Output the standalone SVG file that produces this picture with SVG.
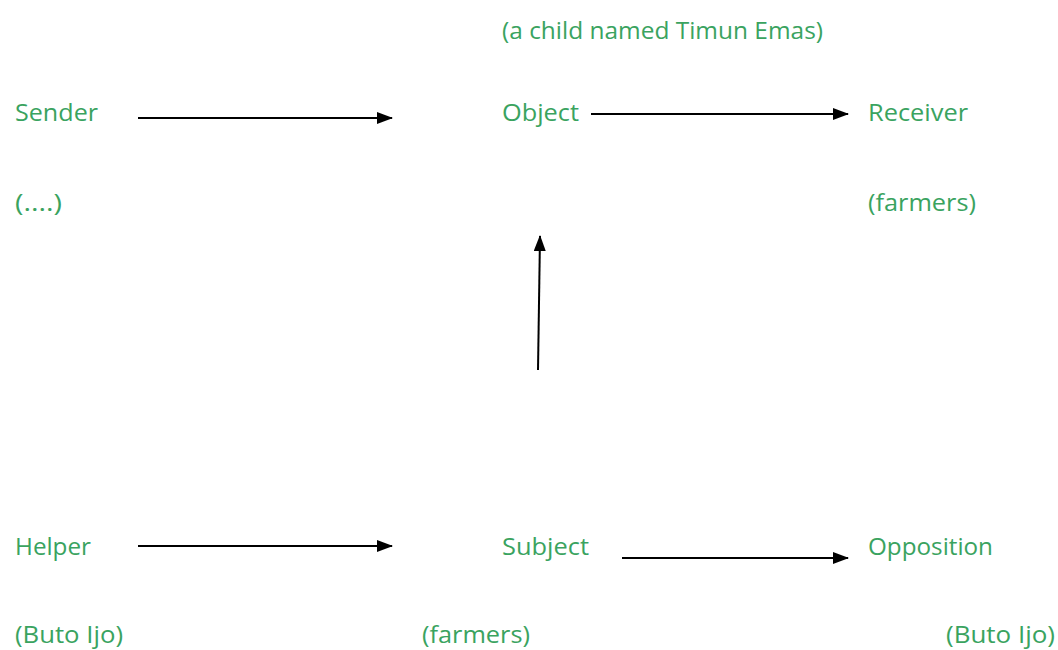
<svg xmlns="http://www.w3.org/2000/svg" width="1058" height="650" viewBox="0 0 1058 650">
  <defs>
    <marker id="head" viewBox="0 0 16 12" refX="15" refY="6" markerWidth="16" markerHeight="12" orient="auto" markerUnits="userSpaceOnUse">
      <path d="M0,0 L16,6 L0,12 z" fill="#000"/>
    </marker>
    <style>
      .lbl { font-family: "Open Sans", "Liberation Sans", sans-serif; font-size: 24px; fill: #3aa35f; }
      .edge { stroke: #000; stroke-width: 2; fill: none; marker-end: url(#head); }
    </style>
  </defs>
  <rect width="1058" height="650" fill="#fff"/>

  <g id="object">
    <text class="lbl" x="502" y="39" textLength="321" lengthAdjust="spacingAndGlyphs">(a child named Timun Emas)</text>
    <text class="lbl" x="502" y="121" textLength="77" lengthAdjust="spacingAndGlyphs">Object</text>
  </g>
  <g id="sender">
    <text class="lbl" x="15" y="121" textLength="83" lengthAdjust="spacingAndGlyphs">Sender</text>
    <text class="lbl" x="15" y="211" textLength="47" lengthAdjust="spacingAndGlyphs">(....)</text>
  </g>
  <g id="receiver">
    <text class="lbl" x="868" y="121" textLength="100" lengthAdjust="spacingAndGlyphs">Receiver</text>
    <text class="lbl" x="868" y="211" textLength="108" lengthAdjust="spacingAndGlyphs">(farmers)</text>
  </g>
  <g id="helper">
    <text class="lbl" x="15" y="555" textLength="76" lengthAdjust="spacingAndGlyphs">Helper</text>
    <text class="lbl" x="15" y="643" textLength="108" lengthAdjust="spacingAndGlyphs">(Buto Ijo)</text>
  </g>
  <g id="subject">
    <text class="lbl" x="502" y="555" textLength="87" lengthAdjust="spacingAndGlyphs">Subject</text>
    <text class="lbl" x="422" y="643" textLength="108" lengthAdjust="spacingAndGlyphs">(farmers)</text>
  </g>
  <g id="opposition">
    <text class="lbl" x="868" y="555" textLength="125" lengthAdjust="spacingAndGlyphs">Opposition</text>
    <text class="lbl" x="946" y="643" textLength="109" lengthAdjust="spacingAndGlyphs">(Buto Ijo)</text>
  </g>

  <g id="connectors">
    <line class="edge" x1="138" y1="118" x2="392" y2="118"/>
    <line class="edge" x1="591" y1="114" x2="848" y2="114"/>
    <line class="edge" x1="538" y1="370" x2="540" y2="236"/>
    <line class="edge" x1="138" y1="546" x2="392" y2="546"/>
    <line class="edge" x1="622" y1="558" x2="848" y2="558"/>
  </g>
</svg>
